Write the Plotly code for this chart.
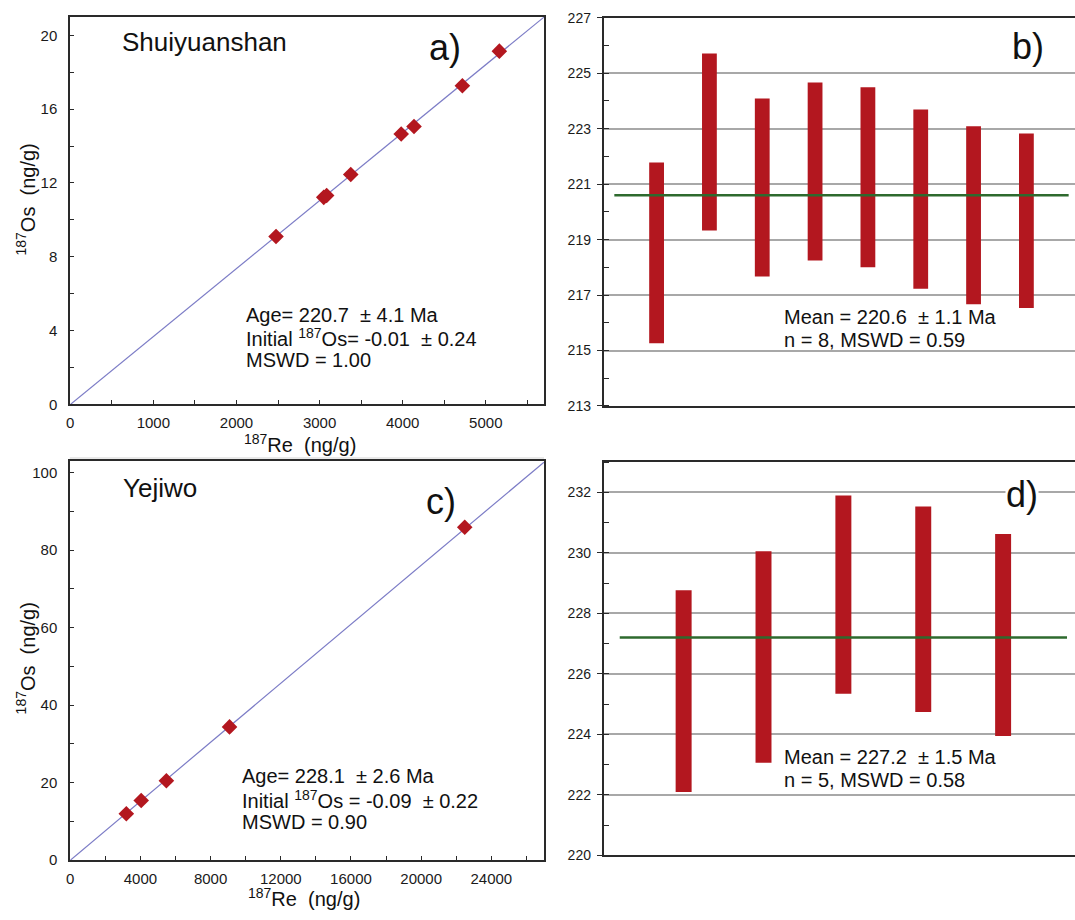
import math
import plotly.graph_objects as go

W, H = 1075, 920
FONT = "Liberation Sans, Arial, Helvetica, sans-serif"
LAMBDA = 1.666e-11  # 187Re decay constant (1/yr)

# ---------------- data ----------------
# a) Shuiyuanshan isochron
re_a = [2476, 3050, 3085, 3375, 3982, 4136, 4718, 5163]
os_a = [9.10, 11.22, 11.32, 12.46, 14.65, 15.06, 17.27, 19.14]
age_a, init_a = 220.7, -0.01
# b) Shuiyuanshan model ages (age, 2-sigma)
age_b = [218.52, 222.52, 220.88, 221.46, 221.25, 220.46, 219.88, 219.68]
err_b = [3.26, 3.19, 3.21, 3.21, 3.25, 3.23, 3.21, 3.15]
mean_b = 220.6
# c) Yejiwo isochron
re_c = [3195, 4044, 5479, 9078, 22483]
os_c = [12.0, 15.4, 20.5, 34.4, 85.9]
age_c, init_c = 228.1, -0.09
# d) Yejiwo model ages
age_d = [225.43, 226.56, 228.62, 228.14, 227.29]
err_d = [3.34, 3.50, 3.28, 3.40, 3.34]
mean_d = 227.2

RED = "#B3171F"
GREEN = "#2E6A2E"
LINE = "#2a2a2a"
FIT = "#7C7CC6"


def px(x):
    return x / W


def py(y):
    return 1 - y / H


fig = go.Figure()

# ---- isochron panels ----
for (re, os_, age, init, xmax, xa, ya) in [
    (re_a, os_a, age_a, init_a, 5700, "x", "y"),
    (re_c, os_c, age_c, init_c, 27000, "x3", "y3"),
]:
    slope = math.expm1(LAMBDA * age * 1e6)
    fig.add_trace(go.Scatter(x=[0, xmax], y=[0, init + slope * xmax], mode="lines",
                             line=dict(color=FIT, width=1.2), xaxis=xa, yaxis=ya,
                             hoverinfo="skip"))
    fig.add_trace(go.Scatter(x=re, y=os_, mode="markers",
                             marker=dict(symbol="diamond", size=12, color=RED,
                                         line=dict(width=0)),
                             xaxis=xa, yaxis=ya))

# ---- model-age bar panels ----
for (ages, errs, mean, xa, ya, w) in [
    (age_b, err_b, mean_b, "x2", "y2", 0.28),
    (age_d, err_d, mean_d, "x4", "y4", 0.20),
]:
    n = len(ages)
    pos = list(range(1, n + 1))
    lows = [a - e for a, e in zip(ages, errs)]
    spans = [2 * e for e in errs]
    fig.add_trace(go.Scatter(x=[0.2, n + 0.8], y=[mean, mean], mode="lines",
                             line=dict(color=GREEN, width=2.5), xaxis=xa, yaxis=ya,
                             hoverinfo="skip"))
    fig.add_trace(go.Bar(x=pos, y=spans, base=lows, width=w,
                         marker=dict(color=RED, line=dict(width=0)),
                         xaxis=xa, yaxis=ya))

tickfont_iso = dict(family=FONT, size=15, color="#1a1a1a")
tickfont_bar = dict(family=FONT, size=14, color="#1a1a1a")

iso_common = dict(showline=True, linecolor=LINE, linewidth=2, mirror=True,
                  zeroline=False, showgrid=False, ticks="inside", ticklen=4,
                  tickwidth=1.3, tickcolor=LINE, tickfont=tickfont_iso,
                  tickformat="d")

dom_x_left = [px(66.5), px(542)]
dom_x_right = [px(602), 1.0]

layout_axes = dict(
    xaxis=dict(domain=dom_x_left, anchor="y", range=[0, 5700], tick0=0, dtick=1000,
               minor=dict(dtick=500, ticks="inside", ticklen=4, tickcolor=LINE),
               ticklabelstandoff=4, **iso_common),
    yaxis=dict(domain=[py(403.5), py(9)], anchor="x", range=[0, 21], tick0=0, dtick=4,
               minor=dict(dtick=2, ticks="inside", ticklen=4, tickcolor=LINE),
               ticklabelstandoff=8, **iso_common),
    xaxis3=dict(domain=dom_x_left, anchor="y3", range=[0, 27000], tick0=0, dtick=4000,
                minor=dict(dtick=2000, ticks="inside", ticklen=4, tickcolor=LINE),
                ticklabelstandoff=4, **iso_common),
    yaxis3=dict(domain=[py(867.3), py(461)], anchor="x3", range=[0, 103], tick0=0, dtick=20,
                minor=dict(dtick=10, ticks="inside", ticklen=4, tickcolor=LINE),
                ticklabelstandoff=8, **iso_common),
)

bar_x_common = dict(showline=True, linecolor=LINE, linewidth=2, mirror=True,
                    zeroline=False, showgrid=False, ticks="", showticklabels=False)
bar_y_common = dict(showline=True, linecolor=LINE, linewidth=2, mirror=False,
                    zeroline=False, showgrid=True, gridcolor="#A8A8A8", gridwidth=1.5,
                    ticks="outside", ticklen=5, tickwidth=1.3, tickcolor=LINE,
                    tickfont=tickfont_bar, ticklabelstandoff=3)

layout_axes.update(
    xaxis2=dict(domain=dom_x_right, anchor="y2", range=[0, 8.92], **bar_x_common),
    yaxis2=dict(domain=[py(405), py(10)], anchor="x2", range=[213, 227], tick0=213, dtick=2,
                minor=dict(dtick=1, ticks="inside", ticklen=5, tickcolor=LINE, showgrid=False),
                **bar_y_common),
    xaxis4=dict(domain=dom_x_right, anchor="y4", range=[0, 5.9], **bar_x_common),
    yaxis4=dict(domain=[py(862.3), py(462.3)], anchor="x4", range=[220, 233], tick0=220, dtick=2,
                minor=dict(dtick=1, ticks="inside", ticklen=5, tickcolor=LINE, showgrid=False),
                **bar_y_common),
)

NB = "\u00a0"
annotations = []


def ann(text, x, y, size, xanchor="left", yanchor="middle", **kw):
    annotations.append(dict(text=text, x=px(x), y=py(y), xref="paper", yref="paper",
                            xanchor=xanchor, yanchor=yanchor, showarrow=False,
                            font=dict(family=FONT, size=size, color="#111"), **kw))


# panel labels and site names
ann("Shuiyuanshan", 116, 35, 26)
ann("Yejiwo", 117, 488, 26)
ann("a)", 443, 40, 36, xanchor="center")
ann("b)", 1028, 39, 36, xanchor="center")
ann("c)", 439, 502, 36, xanchor="center")
ann("d)", 1022, 495, 36, xanchor="center", bgcolor="white", borderpad=0)

# isochron stats
FS = 20
ann(f"Age= 220.7{NB}{NB}± 4.1 Ma", 241, 312, FS)
ann(f"Initial <sup>187</sup>Os= -0.01{NB}{NB}± 0.24", 241, 335, FS)
ann("MSWD = 1.00", 241, 358, FS)
ann(f"Age= 228.1{NB}{NB}± 2.6 Ma", 237, 782, FS)
ann(f"Initial <sup>187</sup>Os = -0.09{NB}{NB}± 0.22", 237, 805, FS)
ann("MSWD = 0.90", 237, 828, FS)

# mean stats
ann(f"Mean = 220.6{NB}{NB}± 1.1 Ma", 781, 314, FS)
ann("n = 8, MSWD = 0.59", 781, 338, FS)
ann(f"Mean = 227.2{NB}{NB}± 1.5 Ma", 781, 762, FS)
ann("n = 5, MSWD = 0.58", 781, 786, FS)

# axis titles
ann(f"<sup>187</sup>Os{NB}{NB}(ng/g)", 22, 195, 20, xanchor="center", textangle=-90)
ann(f"<sup>187</sup>Os{NB}{NB}(ng/g)", 22, 662, 20, xanchor="center", textangle=-90)
ann(f"<sup>187</sup>Re{NB}{NB}(ng/g)", 297, 443, 20, xanchor="center")
ann(f"<sup>187</sup>Re{NB}{NB}(ng/g)", 301, 905, 20, xanchor="center")

shapes = [
    dict(type="line", xref="paper", yref="paper", x0=px(66), x1=px(542), y0=py(458), y1=py(458),
         line=dict(color="#E2E2E2", width=1.5)),
]

fig.update_layout(
    width=W, height=H, autosize=False,
    margin=dict(l=0, r=0, t=0, b=0),
    paper_bgcolor="white", plot_bgcolor="white",
    showlegend=False, barmode="overlay",
    annotations=annotations, shapes=shapes,
    **layout_axes,
)

fig.write_html("out.html")
